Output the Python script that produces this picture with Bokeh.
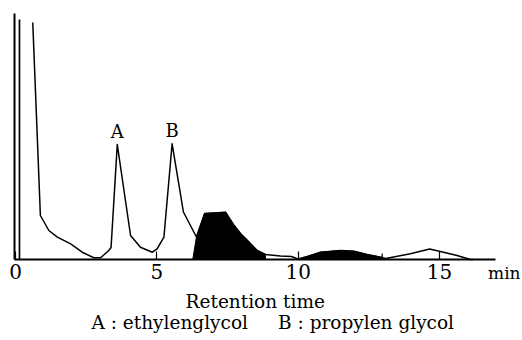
from bokeh.plotting import figure
from bokeh.models import Range1d, FixedTicker, ColumnDataSource
from bokeh.core.properties import value
from bokeh.embed import file_html
from bokeh.resources import INLINE

# ---- data (retention time in min, detector signal in arbitrary units) ----
spike_t = [0.14, 0.14]
spike_h = [0, 240]

trace_t = [0.61, 0.88, 1.18, 1.48, 1.95, 2.36, 2.77, 3.01, 3.30, 3.38, 3.60, 4.07, 4.42,
           4.84, 5.01, 5.25, 5.54, 5.94, 6.40, 6.69, 7.43, 7.71, 7.96, 8.21, 8.55, 8.84,
           9.37, 9.76, 9.99, 10.32, 10.79, 11.50, 11.97, 12.44, 12.97, 13.09, 13.97,
           14.65, 15.03, 15.62, 16.09, 16.20]
trace_h = [237, 44, 29, 22.3, 15.7, 7.3, 1.7, 1.7, 9, 12, 115, 24, 12.3,
           7.3, 10.7, 22.3, 115.7, 47.5, 22.5, 46, 47.3, 35, 26, 19, 9, 5,
           3.5, 3, 0.5, 3, 7.3, 9, 8.3, 5, 2, 1, 5.7,
           10.5, 8, 4, 0, 0]

fill1_t = [6.27, 6.40, 6.69, 7.43, 7.71, 7.96, 8.21, 8.55, 8.84, 8.84]
fill1_h = [0, 22.5, 46, 47.3, 35, 26, 19, 9, 5, 0]

fill2_t = [10.0, 10.32, 10.79, 11.50, 11.97, 12.44, 12.97, 12.97]
fill2_h = [0, 3, 7.3, 9, 8.3, 5, 2, 0]

mark_t = [12.97, 12.97]
mark_h = [0, 6]

peak_names = ["A", "B"]
peak_t = [3.60, 5.54]
peak_h = [115, 115.7]

x_ticks = [0, 5, 10, 15]
x_unit = "min"
x_title = "Retention time"
legend_items = ["A : ethylenglycol", "B : propylen glycol"]

FONT = "DejaVu Serif"

# axis extent (min) and signal extent
T0, T1 = -0.035, 16.98
H0, H1 = 0, 246

p = figure(width=522, height=340, output_backend="svg", toolbar_location=None,
           x_range=Range1d(-0.531, 17.935), y_range=Range1d(-81, 259),
           min_border=0)
p.title.visible = False
p.background_fill_color = "white"
p.border_fill_color = "white"
p.outline_line_color = None
p.grid.visible = False

# axes drawn inside the frame
xa = p.xaxis[0]
xa.fixed_location = 0
xa.bounds = (T0, T1)
xa.ticker = FixedTicker(ticks=x_ticks)
xa.minor_tick_line_color = None
xa.major_tick_in = 8
xa.major_tick_out = 0
xa.major_tick_line_width = 1.2
xa.axis_line_width = 2
xa.major_label_text_font = FONT
xa.major_label_text_font_size = "20px"
xa.major_label_text_color = "black"
xa.major_label_standoff = 4

ya = p.yaxis[0]
ya.fixed_location = T0
ya.bounds = (H0, H1)
ya.ticker = FixedTicker(ticks=[])
ya.minor_tick_line_color = None
ya.major_tick_line_color = None
ya.major_label_text_font_size = "0px"
ya.axis_line_width = 2

# chromatogram
p.patch(fill1_t, fill1_h, fill_color="black", line_color="black", line_width=1,
        line_join="round")
p.patch(fill2_t, fill2_h, fill_color="black", line_color="black", line_width=1,
        line_join="round")
p.line(spike_t, spike_h, line_color="black", line_width=1.7)
p.line(trace_t, trace_h, line_color="black", line_width=1.5, line_join="round")
p.line(mark_t, mark_h, line_color="black", line_width=1.2)

src = ColumnDataSource(dict(x=peak_t, y=[h + 13 for h in peak_h], t=peak_names))
p.text(x="x", y="y", text="t", source=src, text_align="center", text_baseline="alphabetic",
       text_font=value(FONT), text_font_size="18px", text_color="black")

p.text(x=[17.29], y=[-13], text=[x_unit], text_align="center", text_baseline="alphabetic",
       text_font=value(FONT), text_font_size="17px", text_color="black")

lab = ColumnDataSource(dict(x=[8.48, 5.455, 12.40], y=[-42, -63, -63],
                            t=[x_title] + legend_items))
p.text(x="x", y="y", text="t", source=lab, text_align="center", text_baseline="alphabetic",
       text_font=value(FONT), text_font_size="18.5px", text_color="black")

open("out.html", "w").write(file_html(p, INLINE))
